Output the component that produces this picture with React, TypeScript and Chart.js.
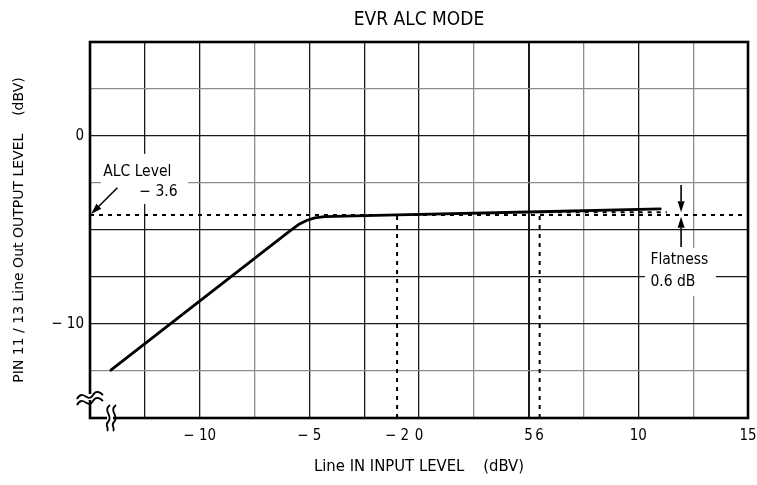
import React, { useEffect, useRef } from 'react';
import { Chart, registerables } from 'chart.js';

Chart.register(...registerables);

// ---- data ----
const curveInput = [-14.05, -6.0, -5.45, -5.1, -4.75, -4.3, -1, 5.5, 11];
const curveOutput = [-12.45, -5.15, -4.68, -4.48, -4.36, -4.29, -4.2, -4.03, -3.88];
const alcLineInput = [-15, 15];
const alcLineLevel = -4.2;
const flatRefInput = [5.5, 11.3];
const flatRefLevel = -4.05;
const markerInputs = [-1, 5.5];
const markerTops = [-4.2, -4.05];
const axisBottom = -15;

const xTickValues = [-10, -5, -1, 0, 5, 5.5, 10, 15];
const xTickLabels = ['− 10', '− 5', '− 2', '0', '5', '6', '10', '15'];
const yTickValues = [0, -10];
const yTickLabels = ['0', '− 10'];
const xGridValues = [-15, -12.5, -10, -7.5, -5, -2.5, 0, 2.5, 5, 7.5, 10, 12.5, 15];
const xGridLight = [-7.5, 2.5, 7.5, 12.5];
const yGridLight = [2.5, -2.5, -12.5];

const FONT = '"DejaVu Sans Condensed", "DejaVu Sans", sans-serif';
const DARK = '#1a1a1a';
const LIGHT = '#8c8c8c';

function arrow(ctx: CanvasRenderingContext2D, x1: number, y1: number, x2: number, y2: number) {
  const ang = Math.atan2(y2 - y1, x2 - x1);
  const hl = 11, hw = 3.5;
  const bx = x2 - hl * Math.cos(ang), by = y2 - hl * Math.sin(ang);
  ctx.beginPath();
  ctx.moveTo(x1, y1);
  ctx.lineTo(bx, by);
  ctx.lineWidth = 1.6;
  ctx.strokeStyle = '#000';
  ctx.stroke();
  ctx.beginPath();
  ctx.moveTo(x2, y2);
  ctx.lineTo(bx + hw * Math.sin(ang), by - hw * Math.cos(ang));
  ctx.lineTo(bx - hw * Math.sin(ang), by + hw * Math.cos(ang));
  ctx.closePath();
  ctx.fillStyle = '#000';
  ctx.fill();
}

const decor = {
  id: 'decor',
  beforeDatasetsDraw(chart: any) {
    const { ctx, scales } = chart;
    const x = scales.x, y = scales.y;
    ctx.save();
    ctx.fillStyle = '#fff';
    // ALC label box
    const ax = x.getPixelForValue(-14.5), ay = y.getPixelForValue(-0.95);
    ctx.fillRect(ax, ay, 87, 50);
    // Flatness label box
    const fx = x.getPixelForValue(10.3), fy = y.getPixelForValue(-5.95);
    ctx.fillRect(fx, fy, 71, 48);
    ctx.restore();
  },
  afterDraw(chart: any) {
    const { ctx, chartArea: a, scales } = chart;
    const x = scales.x, y = scales.y;
    ctx.save();
    // frame
    ctx.strokeStyle = '#000';
    ctx.lineWidth = 2.6;
    ctx.strokeRect(a.left, a.top, a.right - a.left, a.bottom - a.top);

    // title
    ctx.fillStyle = '#000';
    ctx.font = `19px ${FONT}`;
    ctx.textAlign = 'center';
    ctx.textBaseline = 'middle';
    ctx.fillText('EVR ALC MODE', (a.left + a.right) / 2, 20);

    // ALC label
    ctx.font = `15.5px ${FONT}`;
    ctx.textAlign = 'left';
    ctx.fillText('ALC Level', x.getPixelForValue(-14.4), y.getPixelForValue(-1.9));
    ctx.fillText('− 3.6', x.getPixelForValue(-12.75), y.getPixelForValue(-2.98));
    arrow(ctx, x.getPixelForValue(-13.75), y.getPixelForValue(-2.75), x.getPixelForValue(-14.95), y.getPixelForValue(-4.15));

    // Flatness label + arrows
    ctx.fillStyle = '#000';
    ctx.font = `15.5px ${FONT}`;
    ctx.textAlign = 'left';
    ctx.textBaseline = 'middle';
    ctx.fillText('Flatness', x.getPixelForValue(10.55), y.getPixelForValue(-6.6));
    ctx.fillText('0.6 dB', x.getPixelForValue(10.55), y.getPixelForValue(-7.75));
    const ar = x.getPixelForValue(11.95);
    arrow(ctx, ar, y.getPixelForValue(-2.6), ar, y.getPixelForValue(-4.05));
    arrow(ctx, ar, y.getPixelForValue(-5.9), ar, y.getPixelForValue(-4.3));

    // axis break symbols
    const bx = a.left, by = a.bottom;
    ctx.fillStyle = '#fff';
    ctx.fillRect(bx - 2, by - 24, 4, 6);
    ctx.fillRect(bx + 17, by - 2, 6, 4);
    ctx.strokeStyle = '#000';
    ctx.lineWidth = 1.8;
    for (const off of [0, 6]) {
      ctx.beginPath();
      ctx.moveTo(bx - 13, by - 19 + off);
      ctx.bezierCurveTo(bx - 7, by - 30 + off, bx - 2, by - 14 + off, bx + 3, by - 23 + off);
      ctx.bezierCurveTo(bx + 6, by - 28 + off, bx + 10, by - 26 + off, bx + 13, by - 23 + off);
      ctx.stroke();
    }
    for (const off of [0, 6]) {
      ctx.beginPath();
      ctx.moveTo(bx + 20 + off, by - 13);
      ctx.bezierCurveTo(bx + 12 + off, by - 7, bx + 24 + off, by - 2, bx + 18 + off, by + 4);
      ctx.bezierCurveTo(bx + 14 + off, by + 8, bx + 20 + off, by + 10, bx + 17 + off, by + 13);
      ctx.stroke();
    }
    ctx.restore();
  },
};

export default function App() {
  const ref = useRef<HTMLCanvasElement | null>(null);
  useEffect(() => {
    document.body.style.margin = '0';
    const canvas = ref.current!;
    const curve = curveInput.map((v, i) => ({ x: v, y: curveOutput[i] }));
    const alc = alcLineInput.map((v) => ({ x: v, y: alcLineLevel }));
    const flatRef = flatRefInput.map((v) => ({ x: v, y: flatRefLevel }));
    const markers = markerInputs.map((v, i) => ({
      type: 'line',
      data: [{ x: v, y: axisBottom }, { x: v, y: markerTops[i] }],
      borderColor: '#000',
      borderWidth: 2,
      borderDash: [4, 5],
      pointRadius: 0,
      fill: false,
    }));
    const chart = new Chart(canvas, {
      type: 'scatter',
      data: {
        datasets: [
          { type: 'line', data: alc, borderColor: '#000', borderWidth: 2, borderDash: [4, 5], pointRadius: 0, fill: false } as any,
          { type: 'line', data: flatRef, borderColor: '#000', borderWidth: 2, borderDash: [4, 5], pointRadius: 0, fill: false } as any,
          ...(markers as any[]),
          { type: 'line', data: curve, borderColor: '#000', borderWidth: 2.8, tension: 0, borderJoinStyle: 'round', borderCapStyle: 'round', pointRadius: 0, fill: false } as any,
        ],
      },
      options: {
        responsive: false,
        animation: false,
        devicePixelRatio: 1,
        layout: { padding: { top: 42, right: 9, left: 0, bottom: 0 } },
        plugins: { legend: { display: false }, tooltip: { enabled: false }, title: { display: false } },
        scales: {
          x: {
            type: 'linear',
            min: -15,
            max: 15,
            afterBuildTicks: (scale: any) => {
              const vals = Array.from(new Set([...xGridValues, ...xTickValues])).sort((p, q) => p - q);
              scale.ticks = vals.map((v) => ({ value: v }));
            },
            afterFit: (scale: any) => {
              scale.height = 67;
              scale.paddingLeft = 0;
              scale.paddingRight = 0;
            },
            border: { display: false },
            grid: {
              drawTicks: false,
              lineWidth: (c: any) => (c.tick && c.tick.value === 5 ? 2 : 1.3),
              color: (c: any) => {
                const v = c.tick ? c.tick.value : 0;
                if (!xGridValues.includes(v) || v === -15 || v === 15) return 'rgba(0,0,0,0)';
                return xGridLight.includes(v) ? LIGHT : DARK;
              },
            },
            ticks: {
              autoSkip: false,
              maxRotation: 0,
              padding: 9,
              color: '#000',
              font: { family: FONT, size: 15 },
              callback: (v: any) => {
                const i = xTickValues.indexOf(Number(v));
                return i >= 0 ? xTickLabels[i] : '';
              },
            },
            title: {
              display: true,
              text: 'Line IN INPUT LEVEL    (dBV)',
              color: '#000',
              font: { family: FONT, size: 16.5 },
              padding: { top: 0, bottom: 8 },
            },
          },
          y: {
            type: 'linear',
            min: -15,
            max: 5,
            afterFit: (scale: any) => {
              scale.width = 90;
              scale.paddingTop = 0;
              scale.paddingBottom = 0;
            },
            border: { display: false },
            grid: {
              drawTicks: false,
              lineWidth: 1.3,
              color: (c: any) => {
                const v = c.tick ? c.tick.value : 0;
                if (v === -15 || v === 5) return 'rgba(0,0,0,0)';
                return yGridLight.includes(v) ? LIGHT : DARK;
              },
            },
            ticks: {
              stepSize: 2.5,
              autoSkip: false,
              padding: 6,
              color: '#000',
              font: { family: FONT, size: 15 },
              callback: (v: any) => {
                const i = yTickValues.indexOf(Number(v));
                return i >= 0 ? yTickLabels[i] : '';
              },
            },
            title: {
              display: true,
              text: 'PIN 11 / 13 Line Out OUTPUT LEVEL    (dBV)',
              color: '#000',
              font: { family: '"DejaVu Sans", sans-serif', size: 14 },
              padding: { top: 11, bottom: 0 },
            },
          },
        },
      } as any,
      plugins: [decor],
    });
    return () => chart.destroy();
  }, []);
  return (
    <div style={{ width: 757, height: 485, background: '#fff' }}>
      <canvas ref={ref} width={757} height={485} style={{ display: 'block' }} />
    </div>
  );
}
